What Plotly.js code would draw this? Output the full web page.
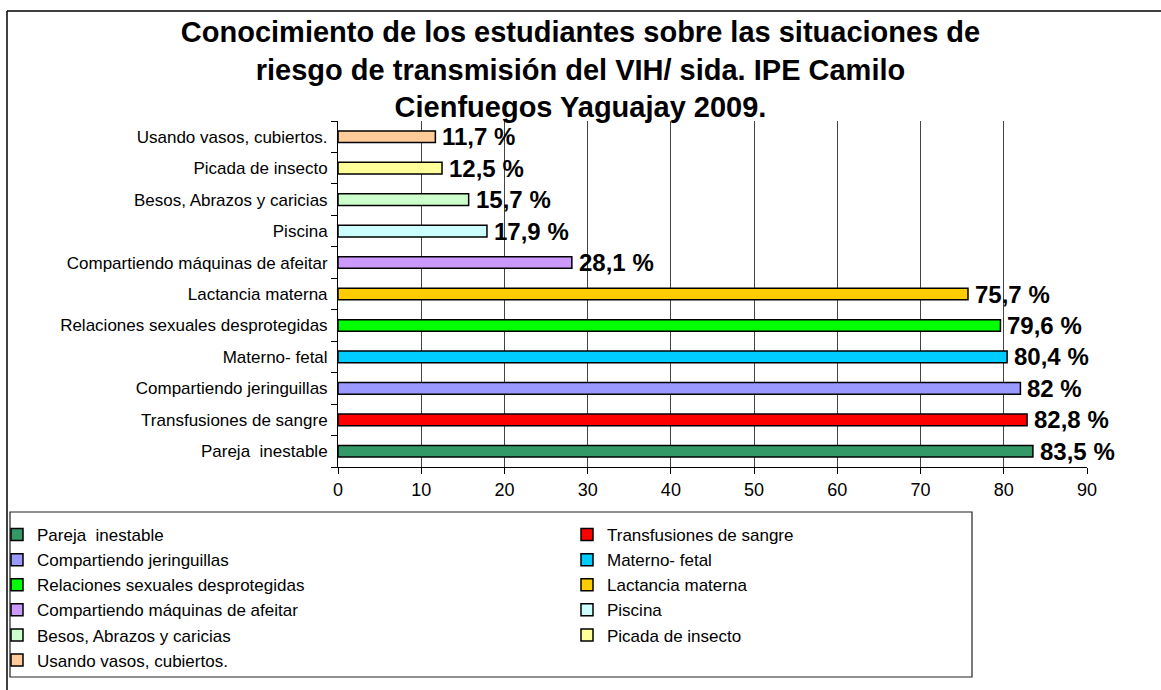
<!DOCTYPE html>
<html>
<head>
<meta charset="utf-8">
<script src="https://cdn.plot.ly/plotly-3.0.1.min.js"></script>
<style>
  html, body { margin: 0; padding: 0; background: #ffffff; }
  #chart { width: 1161px; height: 690px; }
</style>
</head>
<body>
<div id="chart"></div>
<script>
// Categories, bottom to top on the chart
const categories = [
  "Pareja  inestable",
  "Transfusiones de sangre",
  "Compartiendo jeringuillas",
  "Materno- fetal",
  "Relaciones sexuales desprotegidas",
  "Lactancia materna",
  "Compartiendo máquinas de afeitar",
  "Piscina",
  "Besos, Abrazos y caricias",
  "Picada de insecto",
  "Usando vasos, cubiertos."
];
const values = [83.5, 82.8, 82, 80.4, 79.6, 75.7, 28.1, 17.9, 15.7, 12.5, 11.7];
const colors = ["#339966", "#FF0000", "#9999FF", "#00CCFF", "#00FF00", "#FFCC00",
                "#CC99FF", "#CCFFFF", "#CCFFCC", "#FFFF99", "#FFCC99"];
// which legend column each series goes to
const legendColumn = ["legend", "legend2", "legend", "legend2", "legend", "legend2",
                      "legend", "legend2", "legend", "legend2", "legend"];
const xTicks = [0, 10, 20, 30, 40, 50, 60, 70, 80, 90];

const FONT = "Arial, 'Liberation Sans', sans-serif";

// plot-area geometry (pixels) used to place the frame and legends
const W = 1161, H = 690;
const PL = 338, PR = 1087, PT = 121, PB = 467;
const px = x => (x - PL) / (PR - PL);
const py = y => (PB - y) / (PB - PT);

const traces = categories.map((c, i) => ({
  type: "bar",
  orientation: "h",
  name: c,
  x: [values[i]],
  y: [c],
  width: 0.37,
  marker: { color: colors[i], line: { color: "#000000", width: 1.5 } },
  legend: legendColumn[i],
  hoverinfo: "x+y"
}));

const annotations = categories.map((c, i) => ({
  x: values[i],
  y: c,
  xref: "x",
  yref: "y",
  text: String(values[i]).replace(".", ",") + " %",
  showarrow: false,
  xanchor: "left",
  yanchor: "middle",
  xshift: 5,
  font: { family: FONT, size: 24, color: "#000000", weight: "bold" }
}));

const legendFont = { family: FONT, size: 17, color: "#000000" };

const layout = {
  width: W,
  height: H,
  paper_bgcolor: "#ffffff",
  plot_bgcolor: "#ffffff",
  margin: { l: PL, r: W - PR, t: PT, b: H - PB, autoexpand: false },
  barmode: "overlay",
  title: {
    text: "<b>Conocimiento de los estudiantes sobre las situaciones de<br>riesgo de transmisión del VIH/ sida. IPE Camilo<br>Cienfuegos Yaguajay 2009.</b>",
    font: { family: FONT, size: 29, color: "#000000" },
    x: 0.5,
    xref: "container",
    xanchor: "center",
    y: 1 - 42 / H,
    yref: "container",
    yanchor: "middle"
  },
  xaxis: {
    range: [0, 90],
    tickvals: xTicks,
    ticktext: xTicks.map(String),
    ticks: "outside",
    ticklen: 6,
    tickcolor: "#000000",
    showline: true,
    linecolor: "#000000",
    linewidth: 1,
    showgrid: true,
    gridcolor: "#444444",
    gridwidth: 1,
    zeroline: false,
    tickfont: { family: FONT, size: 18, color: "#000000" },
    fixedrange: true
  },
  yaxis: {
    type: "category",
    categoryorder: "array",
    categoryarray: categories,
    range: [-0.5, categories.length - 0.5],
    tickson: "boundaries",
    ticks: "outside",
    ticklen: 6,
    tickcolor: "#000000",
    showline: true,
    linecolor: "#000000",
    linewidth: 1,
    showgrid: false,
    zeroline: false,
    ticklabelstandoff: 6,
    tickfont: { family: FONT, size: 17, color: "#000000" },
    fixedrange: true
  },
  legend: {
    x: px(-3), y: py(517),
    xanchor: "left", yanchor: "top",
    orientation: "v",
    traceorder: "normal",
    bgcolor: "rgba(0,0,0,0)",
    borderwidth: 0,
    font: legendFont
  },
  legend2: {
    x: px(567), y: py(517),
    xanchor: "left", yanchor: "top",
    orientation: "v",
    traceorder: "normal",
    bgcolor: "rgba(0,0,0,0)",
    borderwidth: 0,
    font: legendFont
  },
  showlegend: true,
  annotations: annotations,
  shapes: [
    // outer frame (top and left edges visible)
    { type: "line", xref: "paper", yref: "paper",
      x0: px(7), x1: px(W + 20), y0: py(11), y1: py(11),
      line: { color: "#000000", width: 1.5 } },
    { type: "line", xref: "paper", yref: "paper",
      x0: px(7), x1: px(7), y0: py(11), y1: py(H + 20),
      line: { color: "#000000", width: 1.5 } },
    // legend box
    { type: "rect", xref: "paper", yref: "paper",
      x0: px(10), x1: px(972), y0: py(512), y1: py(677),
      line: { color: "#222222", width: 1.2 }, fillcolor: "rgba(0,0,0,0)" }
  ]
};

Plotly.newPlot("chart", traces, layout, { displayModeBar: false, staticPlot: true });
</script>
</body>
</html>
